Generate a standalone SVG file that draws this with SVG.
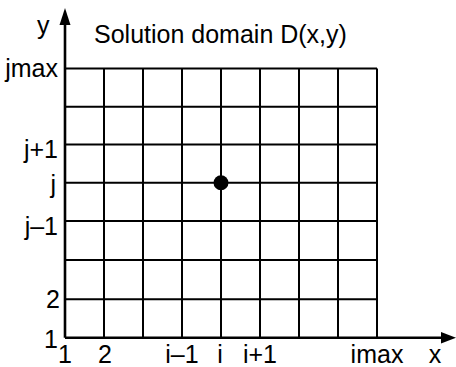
<svg xmlns="http://www.w3.org/2000/svg" width="456" height="367" viewBox="0 0 456 367">
<style>
.g{stroke:#000;stroke-width:2;fill:none}
.ax{stroke:#000;stroke-width:2.6;fill:none}
text{font-family:"Liberation Sans",Arial,sans-serif;font-size:25px;fill:#000}
.e{text-anchor:end}
.m{text-anchor:middle}
</style>
<rect width="456" height="367" fill="#fff"/>
<g id="grid" class="g">
<path d="M104 68.5V337.5M143 68.5V337.5M182 68.5V337.5M221 68.5V337.5M260 68.5V337.5M299 68.5V337.5M338 68.5V337.5M377 68.5V337.5"/>
<path d="M65 68.5H377M65 106.8H377M65 144.5H377M65 182.7H377M65 221H377M65 260H377M65 299.3H377"/>
</g>
<g id="axes">
<path class="ax" d="M65 337.7V22M65 337.7H443"/>
<polygon points="65,8 70.5,25 59.5,25" fill="#000"/>
<polygon points="456,337.7 441,332 441,343.4" fill="#000"/>
</g>
<g id="node-ij">
<circle cx="221" cy="182.7" r="7.5" fill="#000"/>
</g>
<g id="labels">
<text x="37" y="34">y</text>
<text x="94" y="43">Solution domain D(x,y)</text>
<text class="e" x="58" y="77">jmax</text>
<text class="e" x="58" y="158">j+1</text>
<text class="e" x="56" y="193">j</text>
<text class="e" x="58" y="235">j–1</text>
<text class="e" x="60" y="308">2</text>
<text class="e" x="58" y="348">1</text>
<text class="m" x="65" y="363">1</text>
<text class="m" x="105" y="363">2</text>
<text class="m" x="182" y="363">i–1</text>
<text class="m" x="220" y="363">i</text>
<text class="m" x="260" y="363">i+1</text>
<text class="m" x="377" y="363">imax</text>
<text class="m" x="435" y="363">x</text>
</g>
</svg>
